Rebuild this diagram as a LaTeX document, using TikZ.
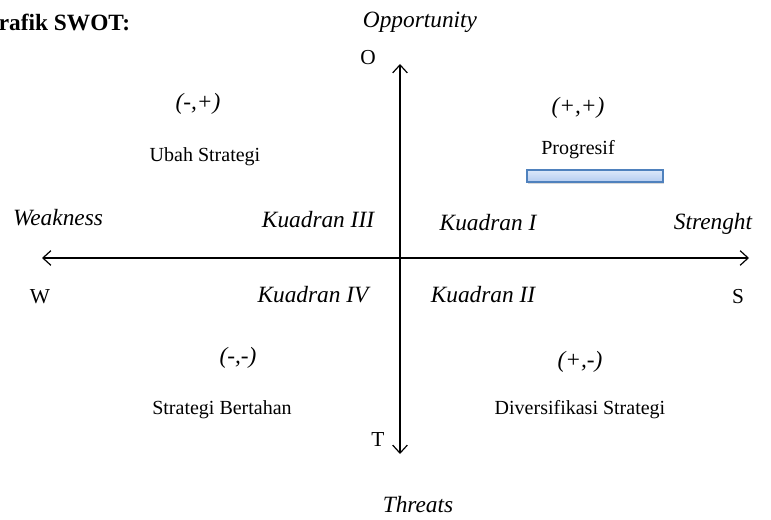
\documentclass[tikz,border=0pt]{standalone}
\usepackage{fontspec}
\setmainfont{Liberation Serif}
\usetikzlibrary{arrows.meta,shadows}

\definecolor{barline}{RGB}{79,129,189}
\definecolor{bartop}{RGB}{220,232,250}
\definecolor{barbot}{RGB}{180,204,240}

\tikzset{
	axis/.style={line width=0.9pt, {Straight Barb[length=6pt,width=11pt]}-{Straight Barb[length=6pt,width=11pt]}},
	lbl/.style={font=\fontsize{17.5}{20}\selectfont\itshape},
	txt/.style={font=\fontsize{15}{17}\selectfont},
	ltr/.style={font=\fontsize{16}{18}\selectfont},
	bar/.style={draw=barline, line width=0.8pt, top color=bartop, bottom color=barbot,
		minimum width=102pt, minimum height=9pt, inner sep=0pt, drop shadow={opacity=0.3, shadow xshift=1pt, shadow yshift=-1.5pt}}
}

\begin{document}
\begin{tikzpicture}[x=0.75pt,y=-0.75pt]
	\useasboundingbox (0,0) rectangle (771,520);

	%title
	\node[anchor=west, font=\fontsize{17.5}{20}\selectfont\bfseries] (title) at (-24,22) {Grafik SWOT:};

	%axes
	\coordinate (top)    at (400,64);
	\coordinate (bottom) at (400,454);
	\coordinate (left)   at (42,258);
	\coordinate (right)  at (749,258);
	\draw[axis]	(top)--(bottom);		%vertical
	\draw[axis]	(left)--(right);		%horizontal

	%axis letters
	\node[ltr] (o) at (368,58) 	{O};
	\node[ltr] (t) at (378,440) 	{T};
	\node[ltr] (w) at (40,297) 	{W};
	\node[ltr] (s) at (738,297) 	{S};

	%axis names
	\node[lbl] (opp)  at (420,22) 	{Opportunity};
	\node[lbl] (thr)  at (418,505) 	{Threats};
	\node[lbl] (weak) at (58,218) 	{Weakness};
	\node[lbl] (str)  at (713,224) 	{Strenght};

	%quadrants
	\node[lbl] (q3) at (318,220) 	{Kuadran III};
	\node[lbl] (q1) at (488,223) 	{Kuadran I};
	\node[lbl] (q4) at (313,295) 	{Kuadran IV};
	\node[lbl] (q2) at (483,295) 	{Kuadran II};

	%signs
	\node[lbl] (s3) at (198,104) 	{(-,+)};
	\node[lbl] (s1) at (578,108) 	{(+,+)};
	\node[lbl] (s4) at (238,358) 	{(-,-)};
	\node[lbl] (s2) at (580,362) 	{(+,-)};

	%strategies
	\node[txt] (ubah) at (205,157) 	{Ubah Strategi};
	\node[txt] (prog) at (578,150) 	{Progresif};
	\node[txt] (bert) at (222,410) 	{Strategi Bertahan};
	\node[txt] (div)  at (580,410) 	{Diversifikasi Strategi};

	%bar
	\node[bar] (progbar) at (595,176) {};
\end{tikzpicture}
\end{document}
